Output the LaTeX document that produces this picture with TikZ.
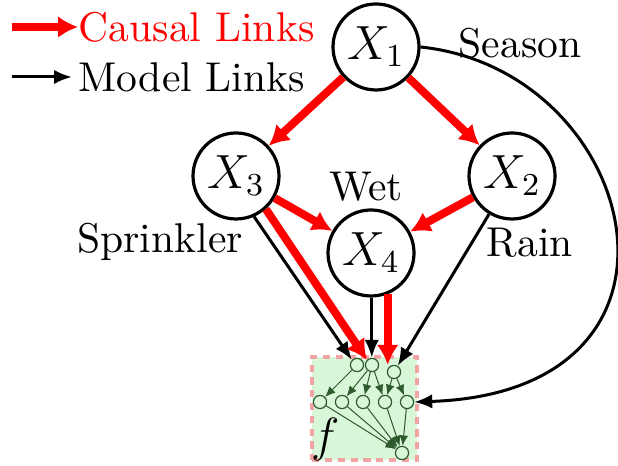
\documentclass[tikz,border=0pt]{standalone}
\usepackage{amsmath,amssymb}
\usepackage{xcolor}
\usepackage{tikz}
\usetikzlibrary{arrows.meta,positioning}
\definecolor{netgreen}{HTML}{2E5A2E}
\definecolor{boxfill}{HTML}{D8F6D8}
\definecolor{boxedge}{HTML}{F2A3A3}

\begin{document}
\begin{tikzpicture}[
  x=0.25pt, y=-0.25pt,
  var/.style   ={circle, draw, line width=0.8pt, minimum size=21.5pt,
                 inner sep=0pt, font=\large},
  unit/.style  ={circle, draw=netgreen, fill=boxfill, line width=0.3pt,
                 minimum size=3.3pt, inner sep=0pt},
  lbl/.style   ={font=\fontsize{10.4}{12.5}\selectfont, inner sep=0pt},
  causal/.style={-{Latex[length=5pt,width=5.5pt]}, draw=red, line width=2pt},
  model/.style ={-{Latex[length=4.5pt,width=3.6pt]}, draw=black, line width=0.75pt},
  wire/.style  ={-{Latex[length=2.6pt,width=2.2pt]}, draw=netgreen, line width=0.25pt}
]
\useasboundingbox (0,0) rectangle (618,466);
% legend
\coordinate (cl) at (12,27);
\coordinate (ml) at (12,77);
\node[lbl, anchor=west, text=red] (causal) at (78,27) {Causal Links};
\node[lbl, anchor=west] (modl) at (78,77) {Model Links};
\draw[causal] (cl) -- (causal.west);
\draw[model] (ml) -- ([xshift=-1.5pt]modl.west);
% variables
\node[var] (x1) at (376,47)  {$X_1$};
\node[var] (x3) at (236,176) {$X_3$};
\node[var] (x2) at (512,176) {$X_2$};
\node[var] (x4) at (371,253) {$X_4$};
\node[lbl] (season) at (520,43)  {Season};
\node[lbl] (sprk)   at (160,242) {Sprinkler};
\node[lbl] (wet)    at (366,187) {Wet};
\node[lbl] (rain)   at (530,243) {Rain};
% model f
\node[draw=boxedge, fill=boxfill, dashed, dash pattern=on 1.8pt off 1.4pt,
      line width=1pt, minimum width=26.2pt, minimum height=25.7pt,
      inner sep=0pt] (fbox) at (364.5,408.5) {};
\node[font=\large, inner sep=0pt] (flbl) at (326,440) {$f$};
\node[unit] (t1) at (357,365) {};
\node[unit] (t2) at (372,365) {};
\node[unit] (t3) at (394,372) {};
\foreach \i/\x in {1/320,2/342,3/363,4/385,5/407}
  \node[unit] (m\i) at (\x,402) {};
\node[unit] (out) at (402,453) {};
\foreach \a/\b in {t1/m1,t2/m2,t2/m3,t2/m4,t3/m4,t3/m5}
  \draw[wire] (\a) -- (\b);
\foreach \i in {1,...,5}
  \draw[wire] (m\i) -- (out);
% causal links
\draw[causal] (x1) -- (x3);
\draw[causal] (x1) -- (x2);
\draw[causal] (x3) -- (x4);
\draw[causal] (x2) -- (x4);
% links into f
\draw[model] (x3.-66) -- (t1.north west);
\draw[causal] (x3.-48) -- (t2.north west);
\draw[model] (x4.-89) -- (x4.-89 |- t2.north);
\draw[causal] (x4.-68) -- (x4.-68 |- t3.north);
\draw[model] (x2) -- (t3);
\draw[model] (x1.east) .. controls (640,70) and (720,392) .. (m5.east);
\end{tikzpicture}
\end{document}
